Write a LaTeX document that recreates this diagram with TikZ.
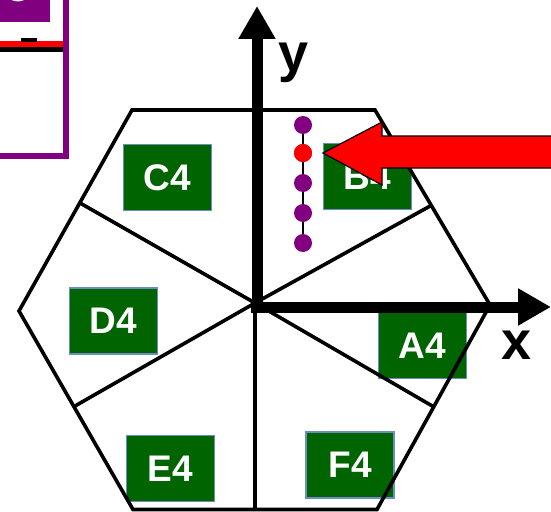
\documentclass[tikz,border=0pt]{standalone}
\usepackage{fontspec}
\setsansfont{Liberation Sans}
\usetikzlibrary{arrows.meta}

\definecolor{cellgreen}{RGB}{0,100,0}
\definecolor{celledge}{RGB}{108,142,191}
\definecolor{framepurple}{RGB}{128,0,128}

\tikzset{
  cell/.style={draw=celledge, line width=1.5pt, fill=cellgreen, text=white,
    font=\sffamily\bfseries\fontsize{37}{37}\selectfont,
    minimum width=88pt, minimum height=66pt, inner sep=0pt},
  hexline/.style={line width=3.6pt, line join=miter},
  axis/.style={line width=11pt, -{Triangle[length=33pt,width=35pt]}},
  axislabel/.style={font=\sffamily\bfseries\fontsize{54}{54}\selectfont,
    inner sep=0pt, anchor=base},
  dot/.style={circle, fill=framepurple, minimum size=18pt, inner sep=0pt},
}

\begin{document}
\begin{tikzpicture}[x=1pt,y=-1pt]
  \useasboundingbox (0,0) rectangle (551,511);
  \clip (0,0) rectangle (551,511);

  % corner of the inset plot
  \fill[framepurple] (0,0) rectangle (50,22);
  \node[white, font=\sffamily\bfseries\fontsize{36}{36}\selectfont, anchor=base]
    (tag) at (17,2) {C};
  \draw[line width=5pt] (0,50) -- (63,50);
  \draw[red, line width=6pt] (0,44.5) -- (63,44.5);
  \fill (21,38) rectangle (37,42);
  \draw[framepurple, line width=6pt] (-10,-10) rectangle (66,155.5);

  % sectors
  \node[cell] (C4) at (167.5,177.5) {C4};
  \node[cell] (B4) at (367.5,176.5) {B4};
  \node[cell] (D4) at (113.5,321) {D4};
  \node[cell] (A4) at (422.5,345.5) {A4};
  \node[cell] (E4) at (170.5,468.5) {E4};
  \node[cell] (F4) at (350,465) {F4};

  % hexagon and spokes
  \coordinate (O) at (255,303);
  \coordinate (TL) at (132,110);
  \coordinate (TR) at (375,110);
  \coordinate (R) at (490,305);
  \coordinate (BR) at (377,509.5);
  \coordinate (BL) at (133,509.5);
  \coordinate (L) at (19,311);
  \draw[hexline] (TL) -- (TR) -- (R) -- (BR) -- (BL) -- (L) -- cycle;
  \coordinate (s1) at (432,205);
  \coordinate (s2) at (80,203);
  \coordinate (s3) at (75,406);
  \coordinate (s4) at (255,509.5);
  \coordinate (s5) at (434,407);
  \foreach \s in {s1,s2,s3,s4,s5}
    \draw[hexline] (O) -- (\s);

  % axes
  \coordinate (yfoot) at (257,308);
  \coordinate (ytip) at (257,6);
  \coordinate (xfoot) at (251,307);
  \coordinate (xtip) at (551,307);
  \draw[axis] (yfoot) -- (ytip);
  \draw[axis] (xfoot) -- (xtip);
  \node[axislabel] (ylabel) at (294,71) {y};
  \node[axislabel] (xlabel) at (517,359) {x};

  % operating points
  \foreach \i/\y in {1/125,2/153,3/183,4/213,5/243}
    \node[dot] (d\i) at (303,\y) {};
  \node[dot, fill=red] at (d2) {};
  \draw[line width=2pt] (d1) -- (d2) -- (d3) -- (d4) -- (d5);

  % pointer
  \coordinate (tip) at (323,153);
  \draw[fill=red, line width=1.2pt, line join=miter] (tip) -- ++(59,-31) -- ++(0,14)
    -- ++(190,0) -- ++(0,32) -- ++(-190,0) -- ++(0,17) -- cycle;
\end{tikzpicture}
\end{document}
